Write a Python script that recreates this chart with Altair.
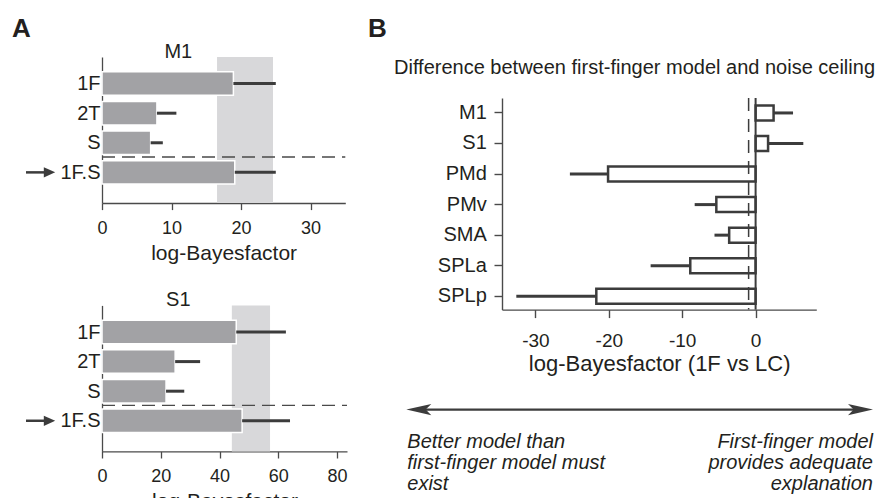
import altair as alt
import pandas as pd

# ---------------- data ----------------
a_models = ["1F", "2T", "S", "1F.S"]
a_positions = [1, 2, 3, 4]
a_split = 3.48          # dashed separator between "S" and "1F.S"
a_arrow_row = 4         # row marked with an arrow

m1_values = [18.9, 7.9, 7.0, 19.1]
m1_errors = [25.0, 10.7, 8.75, 25.0]
m1_ceiling = [16.55, 24.6]
m1_ticks = [0, 10, 20, 30]
m1_max = 35.0

s1_values = [45.7, 24.9, 21.8, 47.7]
s1_errors = [62.6, 33.4, 28.0, 64.0]
s1_ceiling = [44.2, 57.2]
s1_ticks = [0, 20, 40, 60, 80]
s1_max = 83.4

b_regions = ["M1", "S1", "PMd", "PMv", "SMA", "SPLa", "SPLp"]
b_values = [2.45, 1.7, -20.1, -5.35, -3.6, -8.9, -21.7]
b_errors = [5.1, 6.5, -25.3, -8.3, -5.6, -14.3, -32.6]
b_ticks = [-30, -20, -10, 0]
b_domain = [-34.55, 8.27]
b_dashed = -0.95

b_title = "Difference between first-finger model and noise ceiling"
b_left_note = "Better model than\nfirst-finger model must\nexist"
b_right_note = "First-finger model\nprovides adequate\nexplanation"

FONT = "Liberation Sans"
DARK = "#3c3c3c"
AXIS = "#4a4a4a"
TEXT = "#231f20"
BAR = "#a2a2a5"
CEIL = "#d8d8da"
NOVIEW = alt.ViewBackground(stroke="transparent", strokeWidth=0)


def panel_a(name, values, errors, ceiling, xmax, ticks, width, letter=None):
    H = 146
    df = pd.DataFrame({"model": a_models, "pos": a_positions,
                       "value": values, "err": errors})
    df["lo"] = df["pos"] - 0.397
    df["hi"] = df["pos"] + 0.397
    df["zero"] = 0.0
    yscale = alt.Scale(domain=[0.101, 5.035], reverse=True, nice=False, zero=False)
    xscale = alt.Scale(domain=[0, xmax], nice=False, zero=False)
    label_expr = "[" + ",".join("'%s'" % m for m in a_models) + "][datum.value - 1]"
    xaxis = alt.Axis(values=ticks, title="log-Bayesfactor", grid=False, labelFlush=False,
                     tickSize=6.6, labelPadding=9.5, titlePadding=5,
                     labelFontSize=18, titleFontSize=21, titleFontWeight="normal",
                     domainColor=AXIS, tickColor=AXIS, domainWidth=1.3, tickWidth=1.3,
                     labelColor=TEXT, titleColor=TEXT, labelFont=FONT, titleFont=FONT)
    yaxis = alt.Axis(values=a_positions, labelExpr=label_expr, ticks=False, grid=False,
                     labelPadding=2, labelFontSize=20, title=None,
                     domainColor=AXIS, domainWidth=1.3, labelColor=TEXT, labelFont=FONT)

    ceil_df = pd.DataFrame({"lo": [ceiling[0]], "hi": [ceiling[1]]})
    band = alt.Chart(ceil_df).mark_rect(color=CEIL).encode(
        x=alt.X("lo:Q", scale=xscale, axis=xaxis), x2="hi:Q",
        y=alt.value(0), y2=alt.value(H))
    bars = alt.Chart(df).mark_rect(color=BAR, stroke="white", strokeWidth=1.5).encode(
        x=alt.X("zero:Q", scale=xscale, axis=xaxis), x2="value:Q",
        y=alt.Y("lo:Q", scale=yscale, axis=yaxis), y2="hi:Q")
    errs = alt.Chart(df).mark_rule(color=DARK, strokeWidth=3).encode(
        x=alt.X("value:Q", scale=xscale, axis=xaxis), x2="err:Q",
        y=alt.Y("pos:Q", scale=yscale, axis=yaxis))
    sep = alt.Chart(pd.DataFrame({"pos": [a_split]})).mark_rule(
        color=AXIS, strokeWidth=1.3, strokeDash=[13, 7]).encode(
        y=alt.Y("pos:Q", scale=yscale, axis=yaxis), x=alt.value(0), x2=alt.value(width))
    arrow_df = pd.DataFrame({"pos": [a_arrow_row]})
    arrow_line = alt.Chart(arrow_df).mark_rule(color=DARK, strokeWidth=2.5).encode(
        y=alt.Y("pos:Q", scale=yscale, axis=yaxis), x=alt.value(-76), x2=alt.value(-55))
    arrow_head = alt.Chart(arrow_df).mark_point(
        shape="M-1,-0.9L1,0L-1,0.9Z", filled=True, size=130, color=DARK, opacity=1).encode(
        y=alt.Y("pos:Q", scale=yscale, axis=yaxis), x=alt.value(-52.5))
    ttl = alt.Chart(pd.DataFrame({"t": [name]})).mark_text(
        fontSize=20, align="center", baseline="alphabetic", color=TEXT, font=FONT).encode(
        text="t:N", x=alt.value(76.3), y=alt.value(0.5))
    layers = [band, bars, errs, sep, arrow_line, arrow_head, ttl]
    if letter:
        lt = alt.Chart(pd.DataFrame({"t": [letter]})).mark_text(
            fontSize=26, fontWeight="bold", align="left", baseline="alphabetic",
            color=TEXT, font=FONT).encode(text="t:N", x=alt.value(-90), y=alt.value(-19.7))
        layers.append(lt)
    return alt.layer(*layers).properties(width=width, height=H, view=NOVIEW)


m1 = panel_a("M1", m1_values, m1_errors, m1_ceiling, m1_max, m1_ticks, 243.3, "A")
s1 = panel_a("S1", s1_values, s1_errors, s1_ceiling, s1_max, s1_ticks, 245)
left = alt.vconcat(m1, s1, spacing=25.4)

# ---------------- panel B ----------------
BW, BH = 314.3, 211.6
HEAD_H = 40.7

# header strip: panel letter and panel title
letter_b = alt.Chart(pd.DataFrame({"t": ["B"]})).mark_text(
    fontSize=26, fontWeight="bold", align="left", baseline="alphabetic",
    color=TEXT, font=FONT).encode(text="t:N", x=alt.value(-134), y=alt.value(-19.7))
title_b = alt.Chart(pd.DataFrame({"t": [b_title]})).mark_text(
    fontSize=20, align="left", baseline="alphabetic", color=TEXT, font=FONT).encode(
    text="t:N", x=alt.value(-108), y=alt.value(16.7))
header = alt.layer(letter_b, title_b).properties(width=BW, height=HEAD_H, view=NOVIEW)

bdf = pd.DataFrame({"region": b_regions, "value": b_values, "err": b_errors})
bdf["zero"] = 0.0
xscale_b = alt.Scale(domain=b_domain, nice=False, zero=False)
xaxis_b = alt.Axis(values=b_ticks, title="log-Bayesfactor (1F vs LC)", grid=False,
                   labelExpr="datum.value + ''", labelFlush=False,
                   tickSize=8, labelPadding=14, titlePadding=2.5,
                   labelFontSize=19, titleFontSize=22, titleFontWeight="normal",
                   domainColor=AXIS, tickColor=AXIS, domainWidth=1.4, tickWidth=1.4,
                   labelColor=TEXT, titleColor=TEXT, labelFont=FONT, titleFont=FONT)
yscale_b = alt.Scale(domain=b_regions, paddingInner=0.509, paddingOuter=0.2177, align=0.56)
yaxis_b = alt.Axis(title=None, tickSize=8, labelPadding=7.7, labelFontSize=20, grid=False,
                   domainColor=AXIS, tickColor=AXIS, domainWidth=1.4, tickWidth=1.4,
                   labelColor=TEXT, labelFont=FONT)

rects = alt.Chart(bdf).mark_rect(fill="white", stroke=DARK, strokeWidth=2.5).encode(
    x=alt.X("zero:Q", scale=xscale_b, axis=xaxis_b), x2="value:Q",
    y=alt.Y("region:N", scale=yscale_b, axis=yaxis_b, sort=b_regions))
berr = alt.Chart(bdf).mark_rule(color=DARK, strokeWidth=3).encode(
    x=alt.X("value:Q", scale=xscale_b, axis=xaxis_b), x2="err:Q",
    y=alt.Y("region:N", scale=yscale_b, axis=yaxis_b, sort=b_regions))
zero_line = alt.Chart(pd.DataFrame({"v": [0.0]})).mark_rule(color=DARK, strokeWidth=2).encode(
    x=alt.X("v:Q", scale=xscale_b, axis=xaxis_b))
dash_line = alt.Chart(pd.DataFrame({"v": [b_dashed]})).mark_rule(
    color=DARK, strokeWidth=1.5, strokeDash=[13, 8]).encode(
    x=alt.X("v:Q", scale=xscale_b, axis=xaxis_b))

arrow_df = pd.DataFrame({"t": ["arrow"]})
double_line = alt.Chart(arrow_df).mark_rule(color=DARK, strokeWidth=2.2).encode(
    x=alt.value(-88), x2=alt.value(362), y=alt.value(311.6))
head_left = alt.Chart(arrow_df).mark_point(
    shape="M-1,0L1,-0.45L0.55,0L1,0.45Z", filled=True, size=625, color=DARK, opacity=1).encode(
    x=alt.value(-83.2), y=alt.value(311.6))
head_right = alt.Chart(arrow_df).mark_point(
    shape="M1,0L-1,-0.45L-0.55,0L-1,0.45Z", filled=True, size=625, color=DARK, opacity=1).encode(
    x=alt.value(358.5), y=alt.value(311.6))
note_left = alt.Chart(pd.DataFrame({"t": [b_left_note]})).mark_text(
    fontSize=20, fontStyle="italic", align="left", baseline="alphabetic", lineBreak="\n",
    lineHeight=21, color=TEXT, font=FONT).encode(
    text="t:N", x=alt.value(-94.7), y=alt.value(350))
note_right = alt.Chart(pd.DataFrame({"t": [b_right_note]})).mark_text(
    fontSize=20, fontStyle="italic", align="right", baseline="alphabetic", lineBreak="\n",
    lineHeight=21, color=TEXT, font=FONT).encode(
    text="t:N", x=alt.value(371), y=alt.value(350))

panel_b = alt.layer(rects, berr, zero_line, dash_line,
                    double_line, head_left, head_right, note_left, note_right
                    ).properties(width=BW, height=BH, view=NOVIEW)
right_col = alt.vconcat(header, panel_b, spacing=0, bounds="flush")

chart = alt.hconcat(left, right_col, spacing=20).properties(
    padding={"left": 4, "top": 8, "right": 0, "bottom": 0}
).configure_view(stroke=None).configure(font=FONT)

chart.save("out.html", embed_options={"renderer": "svg", "actions": False})
